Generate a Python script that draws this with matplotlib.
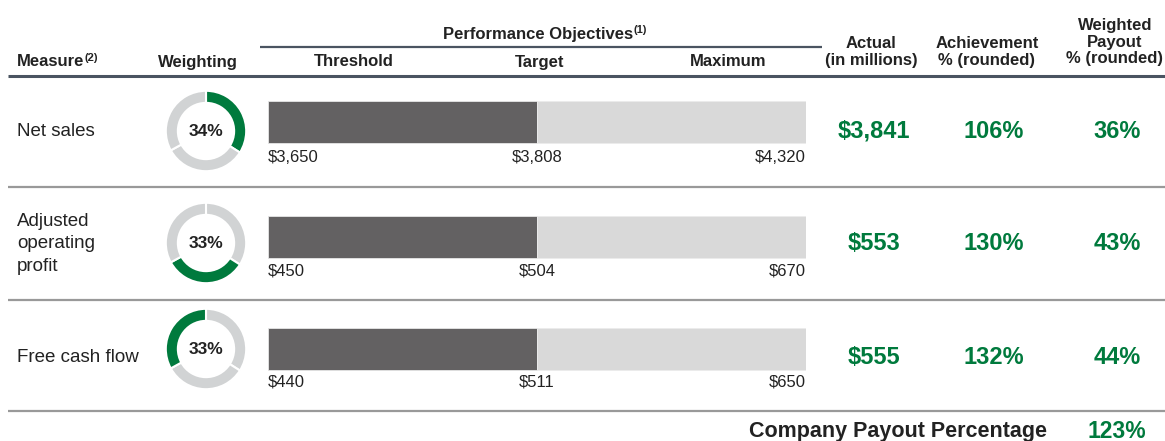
import matplotlib
matplotlib.use("Agg")
import matplotlib.pyplot as plt

plt.rcParams['font.family'] = ['Liberation Sans', 'DejaVu Sans']

# ==========================================
# DATA
# ==========================================
measures = ["Net sales", "Adjusted\noperating\nprofit", "Free cash flow"]
weights = [34, 33, 33]
threshold = [3650, 450, 440]
target = [3808, 504, 511]
maximum = [4320, 670, 650]
actual = [3841, 553, 555]
achievement = [106, 130, 132]
payout = [36, 43, 44]
company_payout = 123

# ==========================================
# STYLE / LAYOUT (pixels)
# ==========================================
W, H = 1165, 441
GREEN = "#007a3d"
DARK_BAR = "#636162"
LIGHT_BAR = "#d9d9d9"
RING_GRAY = "#d1d3d4"
TXT = "#222222"

text_y = [131, 244, 357]
bar_y = [122, 237, 349]
donut_y = [131, 243, 349]
label_y = [158, 271, 382]
donut_x, donut_r = 206, 41
bar_x0, bar_x1 = 268, 806

fig = plt.figure(figsize=(W / 100, H / 100), dpi=100)
ax = fig.add_axes([0, 0, 1, 1])
ax.set_xlim(0, W)
ax.set_ylim(H, 0)
ax.axis('off')

# header
hdr = dict(fontsize=12, fontweight='bold', color=TXT, va='center')
m = ax.text(17, 62, "Measure", ha='left', **hdr)
ax.annotate("(2)", xy=(1, 1), xycoords=m, xytext=(0, 1), textcoords='offset points',
            ha='left', va='top', fontsize=8, fontweight='bold', color=TXT)
ax.text(198, 62, "Weighting", ha='center', **hdr)
ax.text(354, 62, "Threshold", ha='center', **hdr)
ax.text(540, 62, "Target", ha='center', **hdr)
ax.text(728, 62, "Maximum", ha='center', **hdr)
p = ax.text(538, 34, "Performance Objectives", ha='center', **hdr)
ax.annotate("(1)", xy=(1, 1), xycoords=p, xytext=(0, 1), textcoords='offset points',
            ha='left', va='top', fontsize=8, fontweight='bold', color=TXT)
ax.text(871, 52, "Actual\n(in millions)", ha='center', linespacing=1.15, **hdr)
ax.text(987, 52, "Achievement\n% (rounded)", ha='center', linespacing=1.15, **hdr)
ax.text(1115, 42, "Weighted\nPayout\n% (rounded)", ha='center', linespacing=1.15, **hdr)

ax.plot([260, 822], [46.5, 46.5], color="#4a5461", lw=1.6, solid_capstyle='butt')
ax.plot([8, W], [76, 76], color="#4a5461", lw=2.2, solid_capstyle='butt')
for y in [187, 300, 411]:
    ax.plot([8, W], [y, y], color="#999999", lw=1.6, solid_capstyle='butt')

# bars axis: threshold=0, target=1, maximum=2
bx = fig.add_axes([bar_x0 / W, 0, (bar_x1 - bar_x0) / W, 1])
bx.set_xlim(0, 2)
bx.set_ylim(H, 0)
bx.axis('off')
bx.barh(bar_y, [1] * 3, left=0, height=42, color=DARK_BAR, edgecolor="#e6e6e6", lw=0.6)
bx.barh(bar_y, [1] * 3, left=1, height=42, color=LIGHT_BAR, edgecolor="#ececec", lw=0.6)

lbl = dict(fontsize=12, color=TXT, va='center')
for i in range(3):
    bx.text(0, label_y[i], f"${threshold[i]:,}", ha='left', **lbl)
    bx.text(1, label_y[i], f"${target[i]:,}", ha='center', **lbl)
    bx.text(2, label_y[i], f"${maximum[i]:,}", ha='right', **lbl)

# rows
val = dict(fontsize=17, fontweight='bold', color=GREEN, va='center', ha='center')
for i in range(3):
    ax.text(17, text_y[i], measures[i], ha='left', va='center', fontsize=13.5,
            color=TXT, linespacing=1.4)
    ax.text(874, text_y[i], f"${actual[i]:,}", **val)
    ax.text(994, text_y[i], f"{achievement[i]}%", **val)
    ax.text(1117, text_y[i], f"{payout[i]}%", **val)

    # donut
    cy = donut_y[i]
    dax = fig.add_axes([(donut_x - donut_r) / W, 1 - (cy + donut_r) / H,
                        2 * donut_r / W, 2 * donut_r / H])
    colors = [GREEN if j == i else RING_GRAY for j in range(3)]
    dax.pie(weights, colors=colors, startangle=90, counterclock=False, radius=1,
            wedgeprops=dict(width=0.3, edgecolor='white', linewidth=1.5))
    dax.set_xlim(-1.02, 1.02)
    dax.set_ylim(-1.02, 1.02)
    dax.text(0, 0, f"{weights[i]}%", ha='center', va='center', fontsize=12.5,
             fontweight='bold', color=TXT)

# footer
ax.text(1047, 431, "Company Payout Percentage", ha='right', va='center',
        fontsize=15.5, fontweight='bold', color=TXT)
ax.text(1117, 431, f"{company_payout}%", ha='center', va='center',
        fontsize=16.5, fontweight='bold', color=GREEN)

fig.savefig("out.png", dpi=100)
